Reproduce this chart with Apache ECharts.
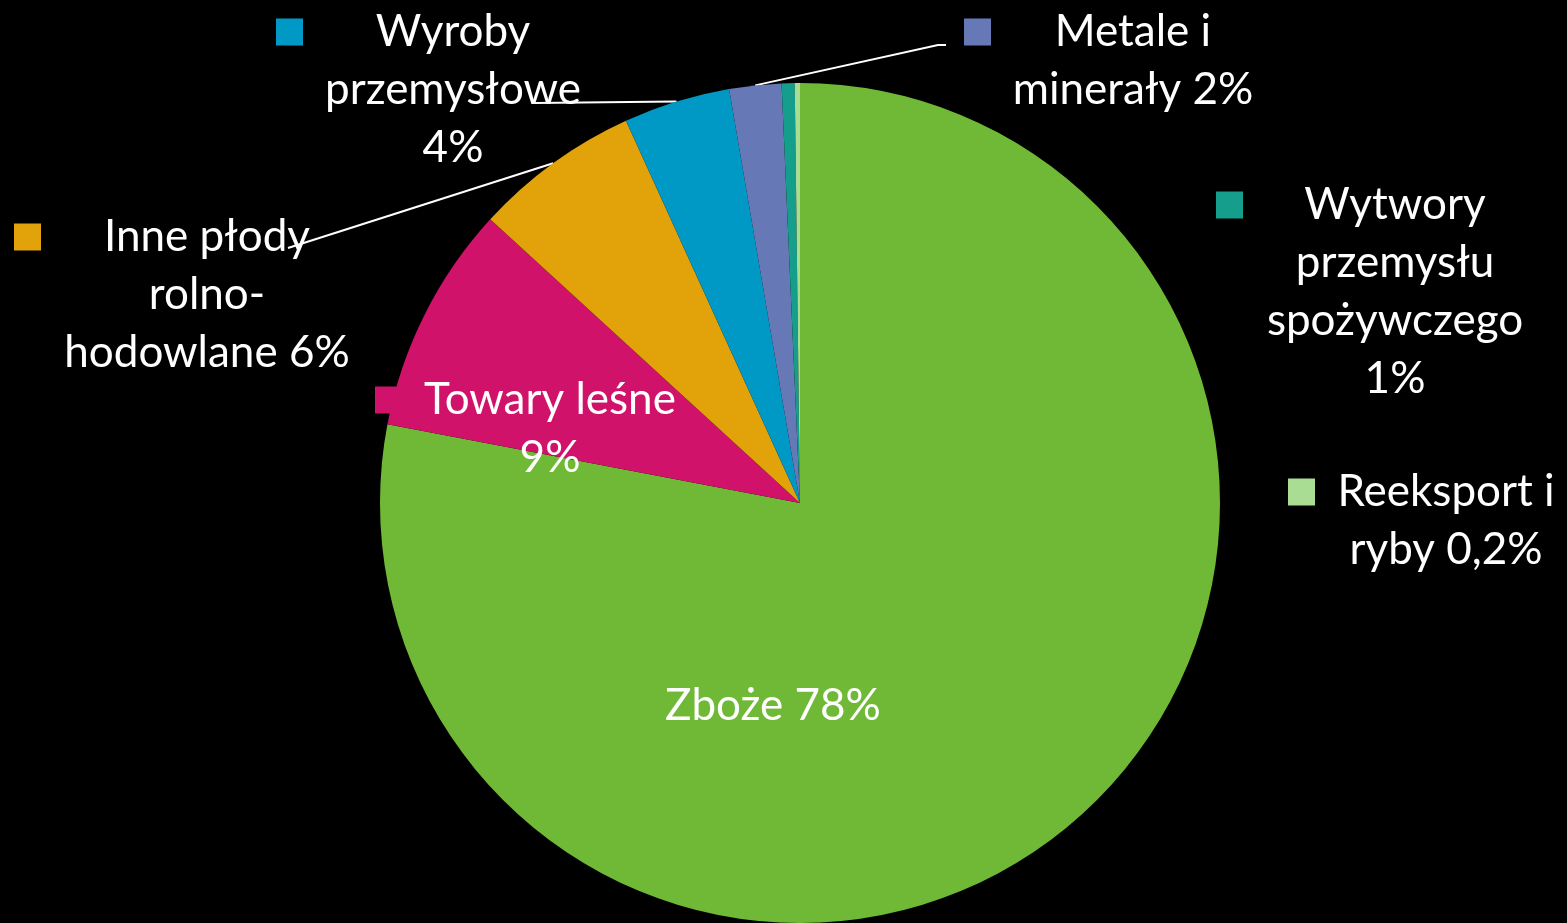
<!DOCTYPE html>
<html>
<head>
<meta charset="utf-8">
<script src="https://cdn.jsdelivr.net/npm/echarts@6/dist/echarts.min.js"></script>
<style>
html,body{margin:0;padding:0;background:#000;}
#chart{width:1567px;height:923px;}
</style>
</head>
<body>
<div id="chart"></div>
<script>
// ---- data ----
const categories = ['Zboże', 'Towary leśne', 'Inne płody rolno-hodowlane', 'Wyroby przemysłowe', 'Metale i minerały', 'Wytwory przemysłu spożywczego', 'Reeksport i ryby'];
const values = [78.0, 8.8, 6.4, 4.1, 2.0, 0.5, 0.2];
const percentLabels = ['78%', '9%', '6%', '4%', '2%', '1%', '0,2%'];
const labelTextLines = [
  ['Zboże 78%'],
  ['Towary leśne', '9%'],
  ['Inne płody', 'rolno-', 'hodowlane 6%'],
  ['Wyroby', 'przemysłowe', '4%'],
  ['Metale i', 'minerały 2%'],
  ['Wytwory', 'przemysłu', 'spożywczego', '1%'],
  ['Reeksport i', 'ryby 0,2%']
];

// ---- styles / layout ----
const colors = ['#70B936', '#D0126A', '#E2A30A', '#0099C6', '#6679B6', '#159E8B', '#A9DD93'];
// label box: left x, top y, square size, gap, text width, leader line end points
const labelBoxes = [
  { x: 623, y: 677, sq: 0, gap: 0, w: 300 },
  { x: 375, y: 371, sq: 27, gap: 13, w: 270 },
  { x: 14, y: 208, sq: 27, gap: 16, w: 300, line: [[288, 248]] },
  { x: 276, y: 3, sq: 27, gap: 15, w: 270, line: [[535, 103]] },
  { x: 964, y: 3, sq: 27, gap: 17, w: 250, line: [[938, 45], [946, 45]] },
  { x: 1216, y: 176, sq: 27, gap: 14, w: 276 },
  { x: 1288, y: 463, sq: 27, gap: 18, w: 226 }
];
const FONT = 'Lato, "Open Sans", sans-serif';

const rich = {};
labelBoxes.forEach((b, i) => {
  rich['sq' + i] = { width: b.sq, height: b.sq, backgroundColor: b.sq ? colors[i] : 'transparent' };
  rich['sp' + i] = { width: b.sq, height: 1 };
  rich['g' + i] = { width: b.gap, height: 1 };
  rich['t' + i] = { width: b.w, align: 'center', fontSize: 44, lineHeight: 58, color: '#fff', fontFamily: FONT };
});

const seriesData = categories.map((name, i) => ({
  name: name,
  value: values[i],
  itemStyle: { color: colors[i] },
  labelLine: { show: !!labelBoxes[i].line }
}));

const chart = echarts.init(document.getElementById('chart'), null, { renderer: 'canvas' });
chart.setOption({
  backgroundColor: '#000',
  animation: false,
  series: [{
    type: 'pie',
    center: [800, 503],
    radius: 420,
    startAngle: 90,
    clockwise: true,
    avoidLabelOverlap: false,
    data: seriesData,
    itemStyle: { borderWidth: 0 },
    label: {
      show: true,
      position: 'outside',
      rich: rich,
      formatter: function (p) {
        const i = p.dataIndex;
        return labelTextLines[i].map((line, k) =>
          (k === 0 ? '{sq' + i + '|}' : '{sp' + i + '|}') + '{g' + i + '|}' + '{t' + i + '|' + line + '}'
        ).join('\n');
      }
    },
    labelLine: {
      show: true,
      lineStyle: { color: '#fff', width: 2 },
      smooth: false
    },
    labelLayout: function (params) {
      const i = params.dataIndex;
      const b = labelBoxes[i];
      const out = { x: b.x, y: b.y, align: 'left', verticalAlign: 'top' };
      if (b.line && params.labelLinePoints && params.labelLinePoints.length) {
        const start = params.labelLinePoints[0];
        out.labelLinePoints = [start].concat(b.line);
      }
      return out;
    }
  }]
});
</script>
</body>
</html>
